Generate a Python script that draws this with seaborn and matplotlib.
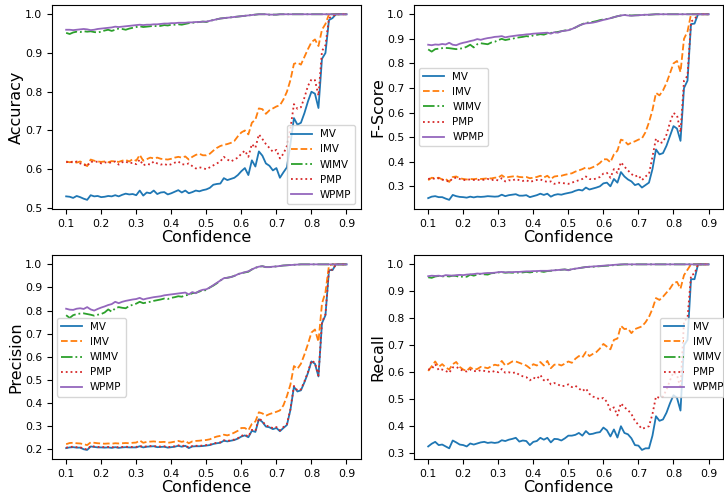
import numpy as np
import pandas as pd
import matplotlib
matplotlib.use("Agg")
import matplotlib.pyplot as plt
import seaborn as sns

# confidence thresholds 0.10 .. 0.90
conf = np.round(np.arange(0.10, 0.905, 0.01), 2)

methods = ["MV", "IMV", "WIMV", "PMP", "WPMP"]
colors = ["#1f77b4", "#ff7f0e", "#2ca02c", "#d62728", "#9467bd"]
styles = ["-", "--", "-.", ":", "-"]

# ---------------- Accuracy ----------------
acc_mv = [0.530, 0.529, 0.526, 0.531, 0.528, 0.524, 0.521, 0.533, 0.530, 0.531,
          0.528, 0.529, 0.531, 0.530, 0.533, 0.530, 0.534, 0.537, 0.535, 0.536,
          0.533, 0.545, 0.532, 0.540, 0.538, 0.545, 0.536, 0.540, 0.541, 0.535,
          0.538, 0.542, 0.546, 0.540, 0.545, 0.538, 0.541, 0.545, 0.543, 0.546,
          0.548, 0.552, 0.560, 0.562, 0.563, 0.577, 0.572, 0.575, 0.578, 0.585,
          0.595, 0.603, 0.585, 0.623, 0.607, 0.646, 0.635, 0.615, 0.609, 0.597,
          0.603, 0.578, 0.592, 0.605, 0.665, 0.732, 0.715, 0.720, 0.745, 0.775,
          0.800, 0.795, 0.758, 0.885, 0.900, 0.985, 0.990, 1.0, 1.0, 1.0,
          1.0]
acc_imv = [0.620, 0.618, 0.620, 0.617, 0.620, 0.615, 0.608, 0.625, 0.622, 0.620,
           0.619, 0.620, 0.618, 0.621, 0.620, 0.619, 0.622, 0.624, 0.620, 0.626,
           0.622, 0.637, 0.622, 0.626, 0.630, 0.628, 0.630, 0.627, 0.626, 0.625,
           0.627, 0.630, 0.632, 0.630, 0.633, 0.625, 0.632, 0.637, 0.640, 0.636,
           0.636, 0.640, 0.648, 0.655, 0.660, 0.663, 0.665, 0.668, 0.673, 0.685,
           0.695, 0.700, 0.690, 0.720, 0.728, 0.757, 0.755, 0.743, 0.752, 0.757,
           0.762, 0.765, 0.780, 0.800, 0.830, 0.872, 0.875, 0.870, 0.890, 0.910,
           0.928, 0.935, 0.918, 0.960, 0.975, 1.0, 1.0, 1.0, 1.0, 1.0,
           1.0]
acc_wimv = [0.952, 0.949, 0.953, 0.955, 0.954, 0.956, 0.955, 0.956, 0.954, 0.953,
            0.955, 0.958, 0.960, 0.957, 0.960, 0.963, 0.962, 0.960, 0.963, 0.965,
            0.967, 0.969, 0.967, 0.968, 0.969, 0.970, 0.969, 0.970, 0.972, 0.971,
            0.973, 0.973, 0.974, 0.973, 0.975, 0.977, 0.978, 0.979, 0.980, 0.981,
            0.980, 0.983, 0.985, 0.987, 0.989, 0.990, 0.991, 0.992, 0.993, 0.994,
            0.995, 0.996, 0.997, 0.998, 0.999, 1.0, 1.0, 1.0, 0.999, 0.999,
            0.999, 1.0, 1.0, 1.0, 1.0, 1.0, 1.0, 1.0, 1.0, 1.0,
            1.0, 1.0, 1.0, 1.0, 1.0, 1.0, 1.0, 1.0, 1.0, 1.0,
            1.0]
acc_pmp = [0.618, 0.620, 0.617, 0.620, 0.615, 0.612, 0.608, 0.620, 0.618, 0.620,
           0.615, 0.618, 0.616, 0.618, 0.620, 0.612, 0.618, 0.620, 0.615, 0.617,
           0.613, 0.625, 0.610, 0.614, 0.612, 0.620, 0.615, 0.612, 0.614, 0.610,
           0.613, 0.617, 0.620, 0.613, 0.612, 0.615, 0.608, 0.602, 0.605, 0.603,
           0.600, 0.605, 0.610, 0.615, 0.620, 0.632, 0.625, 0.620, 0.625, 0.630,
           0.640, 0.648, 0.632, 0.665, 0.655, 0.690, 0.678, 0.665, 0.655, 0.645,
           0.650, 0.628, 0.640, 0.660, 0.705, 0.768, 0.756, 0.760, 0.785, 0.815,
           0.832, 0.830, 0.790, 0.905, 0.920, 0.990, 0.995, 1.0, 1.0, 1.0,
           1.0]
acc_wpmp = [0.960, 0.960, 0.959, 0.960, 0.961, 0.962, 0.961, 0.959, 0.960, 0.962,
            0.963, 0.964, 0.965, 0.966, 0.968, 0.967, 0.968, 0.969, 0.970, 0.971,
            0.972, 0.973, 0.972, 0.973, 0.973, 0.974, 0.974, 0.975, 0.976, 0.976,
            0.977, 0.977, 0.978, 0.978, 0.978, 0.979, 0.979, 0.980, 0.980, 0.981,
            0.981, 0.983, 0.985, 0.987, 0.989, 0.990, 0.991, 0.992, 0.993, 0.994,
            0.995, 0.996, 0.997, 0.998, 0.999, 1.0, 1.0, 1.0, 0.999, 0.999,
            0.999, 1.0, 1.0, 1.0, 1.0, 1.0, 1.0, 1.0, 1.0, 1.0,
            1.0, 1.0, 1.0, 1.0, 1.0, 1.0, 1.0, 1.0, 1.0, 1.0,
            1.0]

# ---------------- F-Score ----------------
f_mv = [0.252, 0.258, 0.260, 0.256, 0.256, 0.250, 0.245, 0.265, 0.260, 0.257,
        0.256, 0.254, 0.258, 0.255, 0.258, 0.257, 0.258, 0.260, 0.259, 0.258,
        0.259, 0.266, 0.260, 0.264, 0.266, 0.268, 0.262, 0.262, 0.264, 0.256,
        0.260, 0.264, 0.270, 0.265, 0.270, 0.258, 0.265, 0.268, 0.266, 0.270,
        0.273, 0.276, 0.282, 0.286, 0.283, 0.295, 0.287, 0.291, 0.295, 0.300,
        0.312, 0.315, 0.300, 0.330, 0.315, 0.358, 0.340, 0.328, 0.320, 0.305,
        0.310, 0.295, 0.305, 0.315, 0.370, 0.450, 0.430, 0.435, 0.465, 0.505,
        0.545, 0.535, 0.485, 0.700, 0.730, 0.960, 0.962, 1.0, 1.0, 1.0,
        1.0]
f_imv = [0.325, 0.335, 0.333, 0.335, 0.328, 0.330, 0.318, 0.338, 0.340, 0.333,
         0.330, 0.328, 0.330, 0.329, 0.331, 0.330, 0.331, 0.333, 0.332, 0.335,
         0.336, 0.345, 0.335, 0.338, 0.340, 0.342, 0.338, 0.337, 0.338, 0.333,
         0.335, 0.338, 0.343, 0.336, 0.343, 0.330, 0.340, 0.342, 0.343, 0.347,
         0.350, 0.353, 0.360, 0.365, 0.370, 0.377, 0.372, 0.378, 0.385, 0.395,
         0.410, 0.410, 0.398, 0.430, 0.445, 0.490, 0.485, 0.470, 0.478, 0.483,
         0.490, 0.495, 0.520, 0.560, 0.610, 0.680, 0.670, 0.690, 0.720, 0.760,
         0.800, 0.810, 0.765, 0.900, 0.930, 1.0, 1.0, 1.0, 1.0, 1.0,
         1.0]
f_wimv = [0.857, 0.848, 0.858, 0.860, 0.862, 0.863, 0.862, 0.860, 0.858, 0.860,
          0.862, 0.868, 0.876, 0.865, 0.878, 0.882, 0.880, 0.878, 0.885, 0.888,
          0.895, 0.900, 0.895, 0.898, 0.900, 0.904, 0.906, 0.908, 0.911, 0.909,
          0.914, 0.916, 0.919, 0.917, 0.922, 0.924, 0.926, 0.928, 0.931, 0.934,
          0.935, 0.941, 0.946, 0.953, 0.960, 0.965, 0.967, 0.969, 0.972, 0.976,
          0.979, 0.981, 0.984, 0.988, 0.992, 0.995, 0.997, 0.996, 0.995, 0.996,
          0.996, 0.997, 0.998, 0.998, 0.999, 1.0, 1.0, 1.0, 1.0, 1.0,
          1.0, 1.0, 1.0, 1.0, 1.0, 1.0, 1.0, 1.0, 1.0, 1.0,
          1.0]
f_pmp = [0.330, 0.333, 0.330, 0.333, 0.327, 0.325, 0.318, 0.333, 0.335, 0.330,
         0.325, 0.327, 0.328, 0.326, 0.327, 0.325, 0.327, 0.330, 0.325, 0.328,
         0.324, 0.333, 0.320, 0.325, 0.323, 0.330, 0.325, 0.322, 0.325, 0.318,
         0.322, 0.326, 0.328, 0.322, 0.318, 0.320, 0.310, 0.315, 0.314, 0.312,
         0.310, 0.315, 0.320, 0.325, 0.330, 0.340, 0.330, 0.328, 0.332, 0.338,
         0.352, 0.355, 0.335, 0.370, 0.355, 0.398, 0.380, 0.365, 0.350, 0.340,
         0.345, 0.325, 0.340, 0.350, 0.420, 0.495, 0.475, 0.480, 0.510, 0.560,
         0.598, 0.590, 0.520, 0.730, 0.750, 0.970, 0.980, 1.0, 1.0, 1.0,
         1.0]
f_wpmp = [0.876, 0.874, 0.877, 0.876, 0.879, 0.877, 0.884, 0.876, 0.874, 0.880,
          0.884, 0.887, 0.891, 0.894, 0.899, 0.896, 0.900, 0.903, 0.905, 0.908,
          0.909, 0.911, 0.906, 0.909, 0.911, 0.913, 0.915, 0.916, 0.918, 0.919,
          0.921, 0.922, 0.923, 0.924, 0.925, 0.921, 0.927, 0.925, 0.931, 0.933,
          0.935, 0.940, 0.946, 0.954, 0.959, 0.963, 0.964, 0.966, 0.969, 0.973,
          0.977, 0.980, 0.984, 0.988, 0.992, 0.995, 0.997, 0.995, 0.994, 0.995,
          0.996, 0.997, 0.998, 0.998, 0.999, 1.0, 1.0, 1.0, 1.0, 1.0,
          1.0, 1.0, 1.0, 1.0, 1.0, 1.0, 1.0, 1.0, 1.0, 1.0,
          1.0]

# ---------------- Precision ----------------
p_mv = [0.205, 0.208, 0.209, 0.207, 0.207, 0.200, 0.197, 0.212, 0.210, 0.208,
        0.208, 0.207, 0.208, 0.206, 0.209, 0.206, 0.208, 0.209, 0.208, 0.208,
        0.208, 0.213, 0.208, 0.211, 0.212, 0.213, 0.209, 0.210, 0.211, 0.207,
        0.209, 0.211, 0.215, 0.211, 0.215, 0.205, 0.212, 0.213, 0.213, 0.214,
        0.216, 0.218, 0.223, 0.226, 0.228, 0.237, 0.234, 0.237, 0.240, 0.246,
        0.255, 0.260, 0.252, 0.280, 0.275, 0.330, 0.318, 0.298, 0.295, 0.287,
        0.292, 0.278, 0.292, 0.305, 0.370, 0.470, 0.450, 0.455, 0.490, 0.530,
        0.580, 0.570, 0.515, 0.745, 0.780, 0.975, 0.975, 1.0, 1.0, 1.0,
        1.0]
p_imv = [0.222, 0.227, 0.228, 0.226, 0.225, 0.222, 0.218, 0.230, 0.228, 0.226,
         0.225, 0.224, 0.225, 0.224, 0.226, 0.225, 0.226, 0.227, 0.226, 0.228,
         0.229, 0.238, 0.228, 0.232, 0.233, 0.234, 0.232, 0.231, 0.232, 0.228,
         0.230, 0.233, 0.236, 0.232, 0.236, 0.226, 0.234, 0.236, 0.237, 0.239,
         0.240, 0.243, 0.250, 0.255, 0.258, 0.263, 0.260, 0.265, 0.272, 0.280,
         0.292, 0.292, 0.282, 0.310, 0.320, 0.360, 0.355, 0.345, 0.352, 0.357,
         0.362, 0.368, 0.390, 0.430, 0.480, 0.560, 0.548, 0.570, 0.610, 0.655,
         0.705, 0.718, 0.665, 0.830, 0.880, 0.995, 1.0, 1.0, 1.0, 1.0,
         1.0]
p_wimv = [0.780, 0.768, 0.780, 0.785, 0.787, 0.788, 0.785, 0.782, 0.778, 0.782,
          0.785, 0.792, 0.805, 0.795, 0.810, 0.815, 0.812, 0.810, 0.820, 0.825,
          0.830, 0.838, 0.832, 0.835, 0.838, 0.842, 0.845, 0.848, 0.852, 0.850,
          0.855, 0.858, 0.862, 0.860, 0.866, 0.868, 0.875, 0.877, 0.882, 0.888,
          0.888, 0.900, 0.908, 0.918, 0.930, 0.940, 0.942, 0.945, 0.950, 0.958,
          0.962, 0.965, 0.968, 0.978, 0.985, 0.990, 0.992, 0.988, 0.988, 0.990,
          0.991, 0.993, 0.995, 0.996, 0.997, 0.998, 0.999, 1.0, 1.0, 1.0,
          1.0, 1.0, 1.0, 1.0, 1.0, 1.0, 1.0, 1.0, 1.0, 1.0,
          1.0]
p_pmp = [0.207, 0.210, 0.211, 0.209, 0.209, 0.202, 0.199, 0.214, 0.212, 0.210,
         0.210, 0.209, 0.210, 0.208, 0.211, 0.208, 0.210, 0.211, 0.210, 0.210,
         0.210, 0.215, 0.210, 0.213, 0.214, 0.215, 0.211, 0.212, 0.213, 0.209,
         0.211, 0.213, 0.217, 0.213, 0.217, 0.207, 0.214, 0.215, 0.215, 0.216,
         0.218, 0.220, 0.225, 0.228, 0.230, 0.239, 0.236, 0.239, 0.242, 0.248,
         0.258, 0.263, 0.255, 0.284, 0.279, 0.334, 0.322, 0.302, 0.299, 0.291,
         0.296, 0.282, 0.296, 0.309, 0.374, 0.474, 0.454, 0.459, 0.494, 0.534,
         0.584, 0.574, 0.519, 0.749, 0.784, 0.977, 0.977, 1.0, 1.0, 1.0,
         1.0]
p_wpmp = [0.808, 0.804, 0.803, 0.808, 0.810, 0.807, 0.815, 0.805, 0.800, 0.807,
          0.813, 0.818, 0.824, 0.828, 0.838, 0.832, 0.838, 0.842, 0.845, 0.848,
          0.850, 0.855, 0.848, 0.852, 0.855, 0.858, 0.860, 0.862, 0.866, 0.868,
          0.870, 0.872, 0.874, 0.876, 0.878, 0.870, 0.880, 0.875, 0.885, 0.890,
          0.892, 0.900, 0.910, 0.920, 0.930, 0.940, 0.942, 0.945, 0.950, 0.957,
          0.962, 0.966, 0.970, 0.978, 0.985, 0.990, 0.992, 0.988, 0.988, 0.990,
          0.991, 0.993, 0.995, 0.996, 0.997, 0.998, 0.999, 1.0, 1.0, 1.0,
          1.0, 1.0, 1.0, 1.0, 1.0, 1.0, 1.0, 1.0, 1.0, 1.0,
          1.0]

# ---------------- Recall ----------------
r_mv = [0.325, 0.335, 0.342, 0.330, 0.332, 0.325, 0.318, 0.347, 0.340, 0.332,
        0.330, 0.325, 0.336, 0.332, 0.336, 0.340, 0.342, 0.338, 0.340, 0.338,
        0.340, 0.348, 0.345, 0.350, 0.353, 0.357, 0.343, 0.347, 0.345, 0.330,
        0.342, 0.345, 0.357, 0.350, 0.357, 0.340, 0.353, 0.352, 0.347, 0.355,
        0.365, 0.365, 0.368, 0.375, 0.365, 0.382, 0.370, 0.372, 0.376, 0.378,
        0.395, 0.385, 0.362, 0.388, 0.358, 0.400, 0.375, 0.370, 0.355, 0.330,
        0.328, 0.312, 0.318, 0.318, 0.365, 0.437, 0.420, 0.425, 0.450, 0.485,
        0.515, 0.505, 0.458, 0.700, 0.720, 0.945, 0.945, 1.0, 1.0, 1.0,
        1.0]
r_imv = [0.605, 0.622, 0.640, 0.620, 0.630, 0.618, 0.610, 0.630, 0.638, 0.620,
         0.610, 0.605, 0.618, 0.610, 0.612, 0.620, 0.618, 0.615, 0.622, 0.628,
         0.625, 0.642, 0.625, 0.632, 0.640, 0.640, 0.635, 0.630, 0.625, 0.615,
         0.630, 0.625, 0.638, 0.625, 0.642, 0.615, 0.628, 0.630, 0.625, 0.632,
         0.640, 0.635, 0.650, 0.660, 0.655, 0.675, 0.660, 0.668, 0.675, 0.688,
         0.705, 0.695, 0.685, 0.720, 0.725, 0.772, 0.760, 0.762, 0.745, 0.760,
         0.765, 0.770, 0.785, 0.805, 0.835, 0.875, 0.868, 0.880, 0.895, 0.910,
         0.930, 0.935, 0.910, 0.960, 0.980, 1.0, 1.0, 1.0, 1.0, 1.0,
         1.0]
r_wimv = [0.952, 0.950, 0.955, 0.957, 0.955, 0.957, 0.955, 0.958, 0.957, 0.953,
          0.955, 0.954, 0.962, 0.958, 0.962, 0.965, 0.963, 0.962, 0.967, 0.968,
          0.970, 0.971, 0.969, 0.970, 0.969, 0.970, 0.969, 0.970, 0.972, 0.970,
          0.972, 0.973, 0.974, 0.972, 0.975, 0.976, 0.978, 0.979, 0.980, 0.981,
          0.979, 0.982, 0.984, 0.986, 0.988, 0.990, 0.991, 0.991, 0.992, 0.993,
          0.994, 0.995, 0.996, 0.997, 0.998, 0.999, 1.0, 1.0, 0.999, 1.0,
          1.0, 1.0, 1.0, 1.0, 1.0, 1.0, 1.0, 1.0, 1.0, 1.0,
          1.0, 1.0, 1.0, 1.0, 1.0, 1.0, 1.0, 1.0, 1.0, 1.0,
          1.0]
r_pmp = [0.610, 0.612, 0.630, 0.608, 0.610, 0.605, 0.598, 0.618, 0.620, 0.612,
         0.605, 0.603, 0.610, 0.605, 0.603, 0.608, 0.605, 0.603, 0.600, 0.605,
         0.600, 0.612, 0.598, 0.600, 0.597, 0.600, 0.590, 0.585, 0.582, 0.570,
         0.580, 0.575, 0.590, 0.570, 0.575, 0.555, 0.560, 0.555, 0.548, 0.550,
         0.555, 0.545, 0.550, 0.540, 0.530, 0.540, 0.520, 0.510, 0.505, 0.500,
         0.505, 0.490, 0.460, 0.470, 0.440, 0.485, 0.470, 0.460, 0.445, 0.420,
         0.405, 0.390, 0.395, 0.400, 0.445, 0.510, 0.505, 0.510, 0.535, 0.570,
         0.600, 0.590, 0.540, 0.790, 0.800, 0.960, 0.965, 1.0, 1.0, 1.0,
         1.0]
r_wpmp = [0.956, 0.958, 0.957, 0.958, 0.956, 0.960, 0.959, 0.958, 0.960, 0.961,
          0.960, 0.962, 0.963, 0.964, 0.966, 0.965, 0.967, 0.968, 0.968, 0.969,
          0.971, 0.972, 0.970, 0.971, 0.971, 0.972, 0.972, 0.973, 0.974, 0.974,
          0.975, 0.975, 0.976, 0.976, 0.976, 0.977, 0.978, 0.979, 0.980, 0.981,
          0.978, 0.982, 0.984, 0.986, 0.988, 0.990, 0.991, 0.992, 0.993, 0.994,
          0.995, 0.996, 0.997, 0.998, 0.999, 1.0, 1.0, 1.0, 1.0, 1.0,
          1.0, 1.0, 1.0, 1.0, 1.0, 1.0, 1.0, 1.0, 1.0, 1.0,
          1.0, 1.0, 1.0, 1.0, 1.0, 1.0, 1.0, 1.0, 1.0, 1.0,
          1.0]

# (name, series, legend loc, legend anchor)
panels = [
    ("Accuracy", [acc_mv, acc_imv, acc_wimv, acc_pmp, acc_wpmp], "lower right", None),
    ("F-Score", [f_mv, f_imv, f_wimv, f_pmp, f_wpmp], "center left", None),
    ("Precision", [p_mv, p_imv, p_wimv, p_pmp, p_wpmp], "center left", None),
    ("Recall", [r_mv, r_imv, r_wimv, r_pmp, r_wpmp], "center right", (1.035, 0.5)),
]

fig, axes = plt.subplots(2, 2, figsize=(7.24, 4.97), dpi=100)
plt.subplots_adjust(left=0.072, right=0.998, top=0.99, bottom=0.076,
                    wspace=0.174, hspace=0.225)

for ax, (name, series, loc, anchor) in zip(axes.flat, panels):
    for m, vals, c, ls in zip(methods, series, colors, styles):
        df = pd.DataFrame({"Confidence": conf, name: vals})
        sns.lineplot(data=df, x="Confidence", y=name, ax=ax, label=m,
                     color=c, linestyle=ls, linewidth=1.3)
    ax.set_xticks([0.1, 0.2, 0.3, 0.4, 0.5, 0.6, 0.7, 0.8, 0.9])
    ax.set_xlabel("Confidence", fontsize=11.5, labelpad=1)
    ax.set_ylabel(name, fontsize=11.5, labelpad=1)
    ax.tick_params(labelsize=7.8)
    if anchor is None:
        ax.legend(loc=loc, fontsize=7.4)
    else:
        ax.legend(loc=loc, bbox_to_anchor=anchor, fontsize=7.4)

fig.savefig("out.png", dpi=100)
